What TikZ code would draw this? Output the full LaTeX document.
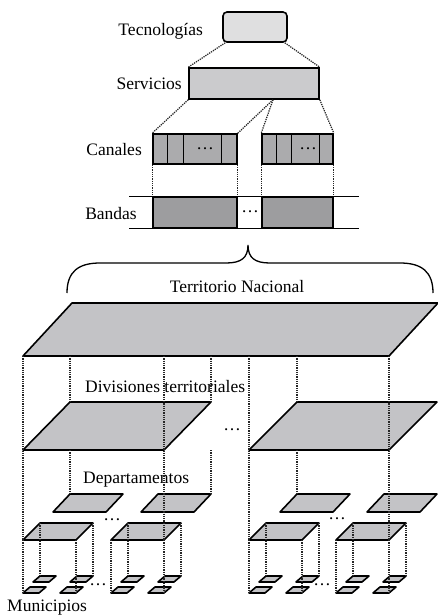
\documentclass[tikz,border=0pt]{standalone}
\usepackage{fontspec}
\setmainfont{Liberation Serif}
\usetikzlibrary{positioning}

\definecolor{tecgray}{HTML}{DFDFE0}
\definecolor{servgray}{HTML}{CBCBCD}
\definecolor{changray}{HTML}{ABABAD}
\definecolor{bandgray}{HTML}{9D9D9F}
\definecolor{planegray}{HTML}{C3C3C6}

% parallelogram: name, x and y of bottom left, width, slant, height
\newcommand{\slab}[6]{%
  \draw[plane] (#2,#3) coordinate (#1-bl) -- ++(#4,0) coordinate (#1-br)
    -- ++(#5,-#6) coordinate (#1-tr) -- ++(-#4,0) coordinate (#1-tl) -- cycle;}

\begin{document}
\begin{tikzpicture}[x=1pt, y=-1pt,
    % Define styles for boxes, planes and links
    every node/.style={inner sep=0pt},
    box/.style={draw, line width=1.6pt, minimum height=30pt},
    tecbox/.style={box, rounded corners=4pt, fill=tecgray, minimum width=64pt},
    servbox/.style={box, fill=servgray, minimum width=130pt, minimum height=31pt},
    chanbox/.style={box, fill=changray},
    bandbox/.style={box, fill=bandgray, minimum height=31pt},
    plane/.style={draw, line width=1.6pt, fill=planegray, line join=round},
    link/.style={densely dotted, line width=1.25pt, black!85},
    lbl/.style={font=\fontsize{17.5}{20}\selectfont}
  ]
  \useasboundingbox (0,0) rectangle (437,616);

  % Top part
  \node[tecbox] (tec) at (255,27) {};
  \node[servbox] (serv) at (254,83.5) {};
  \node[chanbox, minimum width=84pt] (chanl) at (195,149) {};
  \node[chanbox, minimum width=71pt] (chanr) at (297.5,149) {};
  \node[bandbox, minimum width=84pt] (bandl) at (195,212.5) {};
  \node[bandbox, minimum width=71pt] (bandr) at (297.5,212.5) {};
  \coordinate (split) at ([xshift=19pt]serv.south);

  \foreach \d in {15,31,69}
    \draw[line width=1.2pt] ([xshift=\d pt]chanl.north west) -- ([xshift=\d pt]chanl.south west);
  \foreach \d in {15,30,58}
    \draw[line width=1.2pt] ([xshift=\d pt]chanr.north west) -- ([xshift=\d pt]chanr.south west);
  \draw[line width=1.2pt] ([xshift=-23pt]bandl.north west) -- ([xshift=25pt]bandr.north east);
  \draw[line width=1.2pt] ([xshift=-23pt]bandl.south west) -- ([xshift=25pt]bandr.south east);

  \node[lbl] (dotsl) at (205,149) {\dots};
  \node[lbl] (dotsr) at (308,149) {\dots};
  \node[lbl] (dotsb) at (250,212) {\dots};

  \draw[link] ([xshift=3pt]tec.south west) -- (serv.north west);
  \draw[link] ([xshift=-3pt]tec.south east) -- (serv.north east);
  \draw[link] (serv.south west) -- (chanl.north west);
  \draw[link] (split) -- (chanl.north east);
  \draw[link] (split) -- (chanr.north west);
  \draw[link] (serv.south east) -- (chanr.north east);
  \draw[link] (chanl.south west) -- (bandl.north west);
  \draw[link] (chanl.south east) -- (bandl.north east);
  \draw[link] (chanr.south west) -- (bandr.north west);
  \draw[link] (chanr.south east) -- (bandr.north east);

  \node[lbl, anchor=base east] (tectxt) at (203,35) {Tecnologías};
  \node[lbl, anchor=base east] (servtxt) at (182,89) {Servicios};
  \node[lbl, anchor=base east] (chantxt) at (142,155) {Canales};
  \node[lbl, anchor=base east] (bandtxt) at (137,219) {Bandas};

  % Brace
  \draw[line width=1.3pt] (67,293) .. controls (67,272) and (78,263) .. (100,263) -- (226,263)
    .. controls (241,263) and (248,258) .. (248,245)
    .. controls (248,258) and (255,263) .. (270,263) -- (400,263)
    .. controls (422,263) and (433,272) .. (433,293);
  \node[lbl, anchor=base] (nattxt) at (237,292) {Territorio Nacional};

  % Planes
  \slab{nat}{23}{356}{366}{49}{53}
  \slab{dl}{23}{450}{141}{47}{48}
  \slab{dr}{249}{450}{140}{48}{48}
  \slab{a1}{53}{512}{53}{17}{18}
  \slab{a2}{141}{512}{53}{17}{18}
  \slab{a3}{280}{512}{53}{17}{18}
  \slab{a4}{367}{512}{53}{17}{18}
  \slab{b1}{23}{540}{53}{17}{17}
  \slab{b2}{111}{540}{53}{17}{17}
  \slab{b3}{249}{540}{53}{17}{17}
  \slab{b4}{336}{540}{53}{17}{17}
  \foreach \b/\x in {b1/23, b2/111, b3/249, b4/336} {
    \slab{\b-ul}{\x+10}{582}{16}{7}{6}
    \slab{\b-ur}{\x+47}{582}{16}{7}{6}
    \slab{\b-ll}{\x}{593}{16}{7}{6}
    \slab{\b-lr}{\x+37}{593}{16}{7}{6}
  }

  \node[lbl] (dotsd) at (232,430) {\dots};
  \node[lbl] (dotsl2) at (112,520) {\dots};
  \node[lbl] (dotsr2) at (337,519) {\dots};
  \node[lbl] (dotsm1) at (98,585) {\dots};
  \node[lbl] (dotsm2) at (322,585) {\dots};

  \node[lbl, anchor=base west] (divtxt) at (85,392) {Divisiones territoriales};
  \node[lbl, anchor=base west] (deptxt) at (83,483) {Departamentos};
  \node[lbl, anchor=base west] (muntxt) at (7,611) {Municipios};

  % Dotted links between levels
  \draw[link] (nat-bl) -- (b1-bl);
  \draw[link] (dl-tl |- nat-bl) -- (dl-tl);
  \draw[link] (dl-br |- nat-bl) -- (b2-br);
  \draw[link] (dl-tr |- nat-bl) -- (dl-tr);
  \draw[link] (dr-bl |- nat-bl) -- (b3-bl);
  \draw[link] (dr-tl |- nat-bl) -- (dr-tl);
  \draw[link] (nat-br) -- (b4-br);
  \draw[link] (dl-tl |- dl-bl) -- (a1-tl);
  \draw[link] (dl-tr |- dl-bl) -- (a2-tr);
  \draw[link] (dr-tl |- dr-bl) -- (a3-tl);
  \foreach \b in {b1,b2,b3,b4} {
    \draw[link] (\b-bl) -- (\b-ll-bl);
    \draw[link] (\b-tl) -- (\b-ul-tl);
    \draw[link] (\b-tr) -- (\b-ur-tr);
    \draw[link] (\b-br) -- (\b-lr-br);
  }
\end{tikzpicture}
\end{document}
